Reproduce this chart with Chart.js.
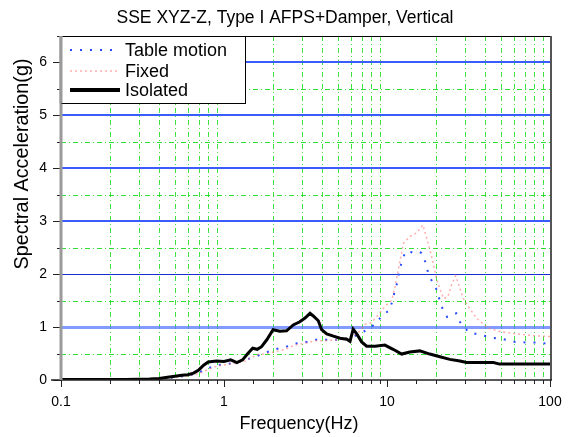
<!DOCTYPE html>
<html><head><meta charset="utf-8">
<script src="https://cdn.jsdelivr.net/npm/chart.js@4/dist/chart.umd.min.js"></script>
<style>html,body{margin:0;padding:0;background:#fff;}#wrap{width:570px;height:437px;}</style>
</head><body><div id="wrap"><canvas id="c" width="570" height="437"></canvas></div>
<script>
const titleText = "SSE XYZ-Z, Type I AFPS+Damper, Vertical";
const xTitle = "Frequency(Hz)";
const yTitle = "Spectral Acceleration(g)";
const seriesNames = ["Table motion", "Fixed", "Isolated"];
const xTickLabels = [0.1, 1, 10, 100];
const yTickLabels = [0, 1, 2, 3, 4, 5, 6];
const minorMultipliers = [2, 3, 4, 5, 6, 7, 8, 9];
const decades = [0.1, 1, 10];

const tableFreq = [0.1, 0.2, 0.3, 0.4, 0.5, 0.6, 0.68, 0.8, 0.9, 1.14, 1.35, 1.55, 2.05, 2.37, 2.73, 3.22, 3.61, 4.16, 4.9, 5.9, 6.8, 7.85, 8.6, 9.4, 10.4, 11.2, 11.6, 11.9, 12.9, 13.5, 14.5, 15.5, 16.3, 17.5, 17.9, 20, 20.9, 21.9, 23.4, 26.6, 28.3, 31.8, 37.6, 43.8, 51.9, 61, 71.6, 84.7, 100];
const tableVal  = [0.005, 0.005, 0.01, 0.02, 0.05, 0.08, 0.12, 0.22, 0.28, 0.32, 0.38, 0.44, 0.58, 0.62, 0.69, 0.72, 0.76, 0.76, 0.76, 0.79, 0.87, 0.98, 1.08, 1.23, 1.32, 1.69, 1.86, 2.08, 2.41, 2.44, 2.40, 2.43, 2.40, 2.17, 2.0, 1.73, 1.54, 1.35, 1.19, 1.26, 1.07, 0.90, 0.85, 0.80, 0.77, 0.72, 0.71, 0.71, 0.68];

const fixedFreq = [0.1, 0.2, 0.3, 0.4, 0.5, 0.6, 0.7, 0.8, 0.9, 1.14, 1.35, 1.6, 1.86, 2.37, 2.73, 3.22, 3.61, 4.16, 4.9, 5.9, 6.8, 7.3, 8.0, 8.9, 9.7, 10.7, 11.2, 12.0, 12.6, 13.8, 15.2, 16.6, 17.9, 18.8, 20.2, 22.2, 23.6, 24.9, 26.4, 29.4, 31.5, 35.4, 41.7, 50.5, 59.3, 71.6, 86, 100];
const fixedVal  = [0.005, 0.005, 0.01, 0.02, 0.05, 0.08, 0.12, 0.2, 0.26, 0.31, 0.36, 0.48, 0.50, 0.58, 0.66, 0.70, 0.74, 0.74, 0.76, 0.80, 0.92, 1.05, 1.08, 1.24, 1.39, 1.51, 1.76, 2.24, 2.58, 2.71, 2.78, 2.93, 2.58, 2.33, 1.89, 1.54, 1.57, 1.80, 1.97, 1.54, 1.39, 1.17, 0.98, 0.91, 0.88, 0.85, 0.83, 0.82];

const isoFreq = [0.1, 0.15, 0.2, 0.25, 0.3, 0.35, 0.4, 0.45, 0.5, 0.55, 0.6, 0.65, 0.7, 0.75, 0.8, 0.9, 1.0, 1.1, 1.2, 1.3, 1.4, 1.5, 1.6, 1.7, 1.83, 2.0, 2.2, 2.42, 2.66, 2.92, 3.14, 3.37, 3.53, 3.79, 3.97, 4.27, 4.69, 5.15, 5.66, 5.93, 6.2, 6.52, 6.99, 7.5, 8.45, 9.7, 10.9, 12.3, 13.8, 15.9, 18.3, 21.1, 24.3, 28, 30.8, 45, 49, 100];
const isoVal  = [0.01, 0.01, 0.01, 0.01, 0.015, 0.02, 0.03, 0.05, 0.07, 0.09, 0.1, 0.13, 0.19, 0.28, 0.34, 0.36, 0.35, 0.38, 0.33, 0.38, 0.5, 0.6, 0.58, 0.63, 0.76, 0.95, 0.92, 0.93, 1.04, 1.10, 1.17, 1.26, 1.21, 1.12, 0.95, 0.87, 0.83, 0.79, 0.77, 0.73, 0.96, 0.87, 0.72, 0.64, 0.64, 0.66, 0.58, 0.49, 0.53, 0.55, 0.49, 0.44, 0.39, 0.36, 0.33, 0.33, 0.30, 0.30];

const FONT = "'Liberation Sans', Arial, sans-serif";
const toPts = (xs, ys) => xs.map((x, i) => ({x: x, y: ys[i]}));

const styles = [
  {color: '#2a4bff', width: 2, dash: [2, 8]},
  {color: 'rgba(255,120,120,0.6)', width: 1.5, dash: [2, 3]},
  {color: '#000000', width: 3, dash: []}
];

const customPlugin = {
  id: 'custom',
  beforeDatasetsDraw(chart) {
    const {ctx, chartArea: a, scales: {x, y}} = chart;
    ctx.save();
    ctx.beginPath(); ctx.rect(a.left, a.top, a.right - a.left, a.bottom - a.top); ctx.clip();
    ctx.strokeStyle = 'rgba(0,215,0,0.75)'; ctx.lineWidth = 1; ctx.setLineDash([5, 3, 1, 3]);
    decades.forEach(d => minorMultipliers.forEach(m => {
      const px = Math.round(x.getPixelForValue(d * m)) + 0.5;
      ctx.beginPath(); ctx.moveTo(px, a.top); ctx.lineTo(px, a.bottom); ctx.stroke();
    }));
    y.ticks.forEach(t => {
      const v = t.value; if (v <= 0) return;
      const py = Math.round(y.getPixelForValue(v));
      if (Math.abs(v - Math.round(v)) > 1e-6) {
        ctx.strokeStyle = 'rgba(0,215,0,0.8)'; ctx.lineWidth = 1; ctx.setLineDash([5, 3, 1, 3]);
        ctx.beginPath(); ctx.moveTo(a.left, py + 0.5); ctx.lineTo(a.right, py + 0.5); ctx.stroke();
      } else {
        ctx.setLineDash([]);
        if (Math.round(v) === 1) { ctx.strokeStyle = 'rgba(90,120,255,0.75)'; ctx.lineWidth = 3; }
        else if (Math.round(v) === 2) { ctx.strokeStyle = '#1a2fd0'; ctx.lineWidth = 1; }
        else { ctx.strokeStyle = '#3a5cff'; ctx.lineWidth = 2; }
        const off = ctx.lineWidth % 2 ? 0.5 : 0;
        ctx.beginPath(); ctx.moveTo(a.left, py + off); ctx.lineTo(a.right, py + off); ctx.stroke();
      }
    });
    ctx.restore();
  },
  afterDatasetsDraw(chart) {
    const {ctx, chartArea: a, scales: {x, y}} = chart;
    ctx.save();
    ctx.setLineDash([]);
    ctx.strokeStyle = '#000'; ctx.lineWidth = 1;
    ctx.beginPath(); ctx.moveTo(a.left, a.top + 0.5); ctx.lineTo(a.right, a.top + 0.5); ctx.stroke();
    ctx.strokeStyle = '#555'; ctx.lineWidth = 2;
    ctx.beginPath(); ctx.moveTo(a.right + 1, a.top); ctx.lineTo(a.right + 1, a.bottom); ctx.stroke();
    ctx.strokeStyle = '#222'; ctx.lineWidth = 1.5;
    ctx.beginPath(); ctx.moveTo(a.left - 10, a.bottom); ctx.lineTo(a.right + 2, a.bottom); ctx.stroke();
    ctx.strokeStyle = '#222'; ctx.lineWidth = 1;
    x.ticks.forEach(t => {
      const px = Math.round(x.getPixelForValue(t.value)) + 0.5;
      const major = xTickLabels.some(l => Math.abs(Math.log10(l) - Math.log10(t.value)) < 1e-6);
      ctx.beginPath(); ctx.moveTo(px, a.bottom); ctx.lineTo(px, a.bottom + (major ? 7 : 4)); ctx.stroke();
    });
    y.ticks.forEach(t => {
      const py = Math.round(y.getPixelForValue(t.value)) + 0.5;
      const major = Math.abs(t.value - Math.round(t.value)) < 1e-6;
      ctx.beginPath(); ctx.moveTo(a.left, py); ctx.lineTo(a.left - (major ? 8 : 4), py); ctx.stroke();
    });
    ctx.strokeStyle = '#9a9a9a'; ctx.lineWidth = 3;
    ctx.beginPath(); ctx.moveTo(a.left, a.top); ctx.lineTo(a.left, a.bottom); ctx.stroke();
    const lx = a.left, ly = a.top + 0.5, lw = 184, lh = 67;
    ctx.fillStyle = '#fff'; ctx.fillRect(lx + 1, ly, lw, lh);
    ctx.strokeStyle = '#000'; ctx.lineWidth = 1;
    ctx.strokeRect(lx + 0.5, ly, lw, lh);
    ctx.strokeStyle = '#9a9a9a'; ctx.lineWidth = 3;
    ctx.beginPath(); ctx.moveTo(a.left, a.top); ctx.lineTo(a.left, ly + lh); ctx.stroke();
    const rows = [50, 71, 90];
    chart.data.datasets.forEach((ds, i) => {
      const st = styles[i];
      ctx.strokeStyle = st.color; ctx.lineWidth = i === 2 ? 4 : st.width; ctx.setLineDash(st.dash);
      ctx.beginPath(); ctx.moveTo(lx + 9, rows[i]); ctx.lineTo(lx + 59, rows[i]); ctx.stroke();
      ctx.setLineDash([]);
      ctx.fillStyle = '#000'; ctx.font = '18px ' + FONT; ctx.textBaseline = 'middle'; ctx.textAlign = 'left';
      ctx.fillText(ds.label, lx + 64, rows[i] + 1);
    });
    ctx.fillStyle = '#000'; ctx.textAlign = 'center'; ctx.textBaseline = 'middle';
    ctx.font = '17.5px ' + FONT;
    ctx.fillText(titleText, 285, 18);
    ctx.font = '18px ' + FONT;
    ctx.fillText(xTitle, 299, 424);
    ctx.translate(23, 164); ctx.rotate(-Math.PI / 2);
    ctx.font = '19.8px ' + FONT;
    ctx.fillText(yTitle, 0, 0);
    ctx.restore();
  }
};

const datasets = [
  {label: seriesNames[0], data: toPts(tableFreq, tableVal)},
  {label: seriesNames[1], data: toPts(fixedFreq, fixedVal)},
  {label: seriesNames[2], data: toPts(isoFreq, isoVal)}
].map((d, i) => Object.assign(d, {
  borderColor: styles[i].color, borderWidth: styles[i].width, borderDash: styles[i].dash,
  pointRadius: 0, tension: 0, fill: false, order: 2 - i
}));

new Chart(document.getElementById('c'), {
  type: 'line',
  data: {datasets},
  options: {
    responsive: false, animation: false, devicePixelRatio: 1,
    layout: {padding: {left: 0, right: 20, top: 36, bottom: 0}},
    plugins: {
      legend: {display: false},
      tooltip: {enabled: false},
      title: {display: false}
    },
    scales: {
      x: {
        type: 'logarithmic', min: 0.1, max: 100,
        afterFit: s => { s.height = 57; s.paddingLeft = 0; s.paddingRight = 0; },
        grid: {display: false, drawTicks: false},
        border: {display: false},
        ticks: {
          autoSkip: false, maxRotation: 0, color: '#000', padding: 14,
          font: {family: FONT, size: 14},
          callback: v => { const l = xTickLabels.find(l => Math.abs(Math.log10(l) - Math.log10(v)) < 1e-6); return l === undefined ? '' : String(l); }
        }
      },
      y: {
        min: 0, max: 6.5,
        afterFit: s => { s.width = 61; s.paddingTop = 0; s.paddingBottom = 0; },
        grid: {display: false, drawTicks: false},
        border: {display: false},
        ticks: {
          stepSize: 0.5, color: '#000', padding: 14,
          font: {family: FONT, size: 14},
          callback: v => { const l = yTickLabels.find(l => Math.abs(l - v) < 1e-6); return l === undefined ? '' : String(l); }
        }
      }
    }
  },
  plugins: [customPlugin]
});
</script></body></html>
